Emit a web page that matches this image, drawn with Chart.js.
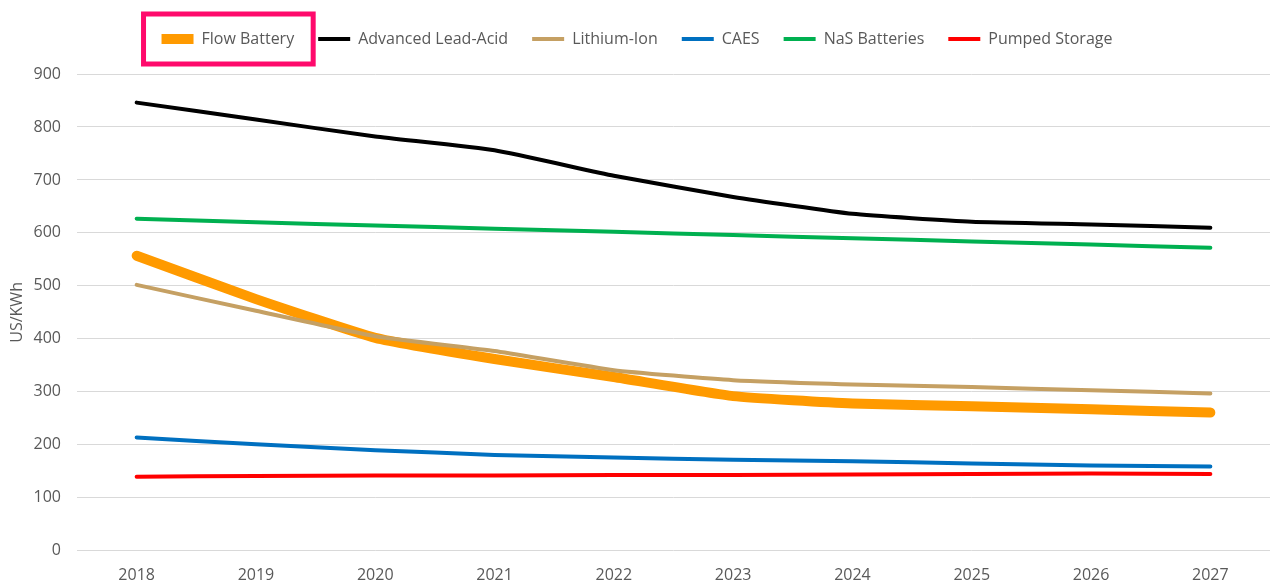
<!DOCTYPE html>
<html>
<head>
<meta charset="utf-8">
<script src="https://cdn.jsdelivr.net/npm/chart.js@4/dist/chart.umd.min.js"></script>
<style>
  html, body { margin: 0; padding: 0; background: #fff; }
  #wrap { width: 1270px; height: 583px; }
</style>
</head>
<body>
<div id="wrap"><canvas id="myChart"></canvas></div>
<script>
const years = ["2018", "2019", "2020", "2021", "2022", "2023", "2024", "2025", "2026", "2027"];
const yTicks = [0, 100, 200, 300, 400, 500, 600, 700, 800, 900];

const flowBattery = [557, 475, 402, 362, 328, 292, 278, 273, 267, 261];
const leadAcid = [846, 814, 782, 756, 708, 668, 636, 621, 616, 610];
const lithiumIon = [502, 453, 405, 377, 341, 322, 314, 309, 303, 297];
const caes = [214, 201, 190, 181, 176, 172, 169, 165, 161, 159];
const nas = [627, 620, 614, 608, 602, 596, 590, 584, 578, 572];
const pumped = [140, 141, 142, 142, 143, 143, 144, 145, 146, 145];

const ctx = document.getElementById('myChart').getContext('2d');
const font = "'Open Sans', sans-serif";

function series(label, data, color, width, order) {
    return {
        label,
        data,
        borderColor: color,
        backgroundColor: color,
        borderWidth: width,
        borderCapStyle: 'round',
        borderJoinStyle: 'round',
        pointRadius: 0,
        pointStyle: 'line',
        tension: 0.15,
        fill: false,
        order
    };
}

// extra room under the legend
const legendGap = {
    id: 'legendGap',
    afterInit(chart) {
        const fit = chart.legend.fit;
        chart.legend.fit = function () {
            fit.call(this);
            this.height += 17;
        };
    }
};

// pink box around the first legend entry
const highlight = {
    id: 'highlight',
    afterDraw(chart) {
        const box = chart.legend.legendHitBoxes[0];
        if (!box) return;
        const c = chart.ctx;
        c.save();
        c.strokeStyle = '#ff0a6c';
        c.lineWidth = 5;
        c.strokeRect(box.left - 18, box.top + box.height / 2 - 25, box.width + 37, 50);
        c.restore();
    }
};

const config = {
    type: 'line',
    data: {
        labels: years,
        datasets: [
            series("Flow Battery", flowBattery, '#ff9a00', 10, 1),
            series("Advanced Lead-Acid", leadAcid, '#000000', 4, 0),
            series("Lithium-Ion", lithiumIon, '#c5a063', 4, 0),
            series("CAES", caes, '#0070c0', 4, 0),
            series("NaS Batteries", nas, '#00b050', 4, 0),
            series("Pumped Storage", pumped, '#ff0000', 4, 0)
        ]
    },
    options: {
        responsive: true,
        maintainAspectRatio: false,
        animation: false,
        layout: { padding: { left: 4, right: 0, top: 7, bottom: -17 } },
        plugins: {
            tooltip: { enabled: false },
            legend: {
                position: 'top',
                labels: {
                    usePointStyle: true,
                    pointStyleWidth: 32,
                    boxHeight: 8,
                    padding: 24,
                    color: '#595959',
                    font: { family: font, size: 16 },
                    sort: (a, b) => a.datasetIndex - b.datasetIndex
                }
            }
        },
        scales: {
            x: {
                offset: true,
                grid: { display: false, drawTicks: false },
                border: { display: false },
                ticks: {
                    color: '#595959',
                    padding: 15,
                    font: { family: font, size: 16 }
                }
            },
            y: {
                min: 0,
                max: 900,
                afterBuildTicks: (axis) => {
                    axis.ticks = yTicks.map(v => ({ value: v }));
                },
                afterFit: (axis) => {
                    axis.width = 73;
                },
                grid: { color: '#d9d9d9', lineWidth: 1, drawTicks: false },
                border: { display: false },
                ticks: {
                    color: '#595959',
                    padding: 16,
                    font: { family: font, size: 16 }
                },
                title: {
                    display: true,
                    text: 'US/KWh',
                    color: '#595959',
                    padding: 4,
                    font: { family: font, size: 16 }
                }
            }
        }
    },
    plugins: [legendGap, highlight]
};

const myChart = new Chart(ctx, config);
</script>
</body>
</html>
